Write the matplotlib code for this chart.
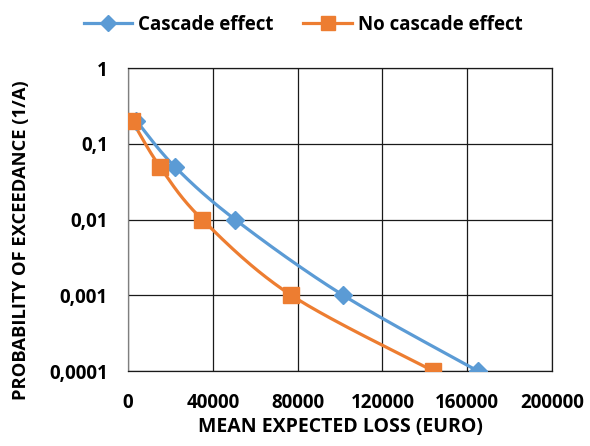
import numpy as np
import matplotlib
matplotlib.use('Agg')
from matplotlib import pyplot as plt

plt.rcParams['font.family'] = ['Open Sans', 'DejaVu Sans']
plt.rcParams['font.weight'] = 'bold'

prob = [0.2, 0.05, 0.01, 0.001, 0.0001]
loss_cascade = [4000, 22000, 50500, 101500, 165000]
loss_no_cascade = [2000, 15000, 35000, 77000, 144000]

yticks = [1, 0.1, 0.01, 0.001, 0.0001]
ytick_labels = ['1', '0,1', '0,01', '0,001', '0,0001']
xticks = [0, 40000, 80000, 120000, 160000, 200000]

BLUE = '#5B9BD5'
ORANGE = '#ED7D31'

XMIN, XMAX = 0, 200000
YMIN, YMAX = 1e-4, 1


def smooth(xs, ys, n=40):
    # Excel style smoothed line (Catmull-Rom) in axis space: x linear, y log
    u = (np.asarray(xs, float) - XMIN) / (XMAX - XMIN)
    v = (np.log10(ys) - np.log10(YMIN)) / (np.log10(YMAX) - np.log10(YMIN)) * (303 / 424)
    pts = np.column_stack([u, v])
    pts = np.vstack([pts[0], pts, pts[-1]])
    out = []
    for i in range(1, len(pts) - 2):
        p0, p1, p2, p3 = pts[i - 1], pts[i], pts[i + 1], pts[i + 2]
        c1 = p1 + (p2 - p0) / 6
        c2 = p2 - (p3 - p1) / 6
        t = np.linspace(0, 1, n)[:, None]
        seg = (1 - t)**3 * p1 + 3 * (1 - t)**2 * t * c1 + 3 * (1 - t) * t**2 * c2 + t**3 * p2
        out.append(seg if i == 1 else seg[1:])
    out = np.vstack(out)
    x = out[:, 0] * (XMAX - XMIN) + XMIN
    y = 10 ** (out[:, 1] / (303 / 424) * (np.log10(YMAX) - np.log10(YMIN)) + np.log10(YMIN))
    return x, y


fig = plt.figure(figsize=(5.9, 4.46), dpi=100)
ax = fig.add_axes([128 / 590, 1 - 371 / 446, 424 / 590, 303 / 446])

ax.set_yscale('log')
ax.set_xlim(XMIN, XMAX)
ax.set_ylim(YMIN, YMAX)

for xs, c, m, ms, lab in [(loss_cascade, BLUE, 'D', 9.5, 'Cascade effect'),
                          (loss_no_cascade, ORANGE, 's', 12, 'No cascade effect')]:
    sx, sy = smooth(xs, prob)
    ax.plot(sx, sy, color=c, lw=2.3, zorder=3)
    ax.plot(xs, prob, ls='none', marker=m, ms=ms, color=c, zorder=4)
    ax.plot([], [], color=c, lw=2.3, marker=m, ms=ms * 0.85, label=lab)

ax.set_xticks(xticks)
ax.set_xticklabels([str(x) for x in xticks])
ax.set_yticks(yticks)
ax.set_yticklabels(ytick_labels)
ax.minorticks_off()
ax.tick_params(length=0, labelsize=13.5)
ax.tick_params(axis='x', pad=15.5)
ax.tick_params(axis='y', pad=14.5)
ax.grid(True, color='#1a1a1a', lw=0.9)
for s in ax.spines.values():
    s.set_color('#1a1a1a')
    s.set_linewidth(0.9)
ax.spines['left'].set_color('#7f7f7f')

ax.set_xlabel('MEAN EXPECTED LOSS (EURO)', fontsize=14, fontweight='bold', labelpad=3)
ax.set_ylabel('PROBABILITY OF EXCEEDANCE (1/A)', fontsize=13.2, fontweight='bold')
ax.yaxis.set_label_coords((30 - 128) / 424, (371 - 240) / 303)

fig.legend(loc='center', bbox_to_anchor=(0.5 + 8 / 590, 1 - 25 / 446), ncol=2, frameon=False,
           fontsize=13.5, handlelength=2.6, handletextpad=0.3, columnspacing=1.6)

fig.savefig('out.png', dpi=100)
